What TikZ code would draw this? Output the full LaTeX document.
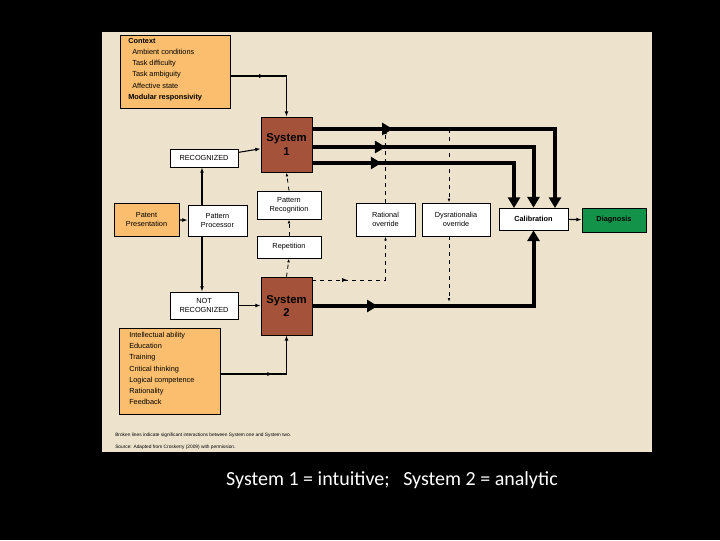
\documentclass[tikz,border=0pt]{standalone}
\usepackage{fontspec}
\setmainfont{Liberation Sans}
\newfontfamily\capfont{Carlito}
\usetikzlibrary{arrows.meta,decorations.markings}
\definecolor{panel}{RGB}{237,227,205}
\definecolor{ctx}{RGB}{250,190,110}
\definecolor{sysc}{RGB}{165,82,58}
\definecolor{diag}{RGB}{19,147,74}
\tikzset{
  box/.style={draw, line width=0.6pt, fill=white, font=\fontsize{5.5}{6.5}\selectfont, align=center, inner sep=0pt},
  obox/.style={box, fill=ctx},
  sys/.style={box, fill=sysc, font=\fontsize{8.5}{10}\bfseries\selectfont},
  fline/.style={line width=0.8pt, -{Latex[length=4pt,width=3pt]}},
  dline/.style={line width=0.6pt, dashed, -{Latex[length=3pt,width=2pt]}},
  tline/.style={line width=3pt, -{Triangle[length=8pt,width=9pt]}},
  midarr/.style={postaction={decorate}, decoration={markings, mark=at position #1 with {\arrow{Triangle[length=8pt,width=9pt]}}}},
  thinmid/.style={postaction={decorate}, decoration={markings, mark=at position #1 with {\arrow{Latex[length=4pt,width=3pt]}}}}
}
\begin{document}
\begin{tikzpicture}[x=0.75pt,y=-0.75pt]
\fill[black] (0,0) rectangle (720,540);
\useasboundingbox (0,0) rectangle (720,540);
\fill[panel] (102,32) rectangle (652,452);
% boxes
\node[obox, minimum width=110*0.75pt, minimum height=73*0.75pt, anchor=north west, align=left, inner sep=0pt] (ctx) at (120,35) {};
\node[anchor=north west, align=left, font=\fontsize{5.5}{8.4}\selectfont, inner sep=0pt] (ctxt) at (128,38) {\textbf{Context}\\\ \ Ambient conditions\\\ \ Task difficulty\\\ \ Task ambiguity\\\ \ Affective state\\\textbf{Modular responsivity}};
\node[sys, minimum width=51*0.75pt, minimum height=55*0.75pt] (s1) at (286.5,144.5) {System\\1};
\node[sys, minimum width=51*0.75pt, minimum height=58*0.75pt] (s2) at (286.5,306) {System\\2};
\node[box, minimum width=68*0.75pt, minimum height=18*0.75pt] (rec) at (204,158) {RECOGNIZED};
\node[box, minimum width=68*0.75pt, minimum height=27*0.75pt] (nrec) at (204,305.5) {NOT\\RECOGNIZED};
\node[obox, minimum width=65*0.75pt, minimum height=33*0.75pt] (pat) at (146.5,219.5) {Patent\\Presentation};
\node[box, minimum width=59*0.75pt, minimum height=31*0.75pt] (pp) at (217.5,220.5) {Pattern\\Processor};
\node[box, minimum width=64*0.75pt, minimum height=28*0.75pt] (pr) at (289,205) {Pattern\\Recognition};
\node[box, minimum width=64*0.75pt, minimum height=22*0.75pt] (rep) at (289,247) {Repetition};
\node[box, minimum width=59*0.75pt, minimum height=33*0.75pt] (rat) at (385.5,219.5) {Rational\\override};
\node[box, minimum width=68*0.75pt, minimum height=33*0.75pt] (dys) at (456,219.5) {Dysrationalia\\override};
\node[box, minimum width=69*0.75pt, minimum height=22*0.75pt, font=\fontsize{5.5}{6.5}\bfseries\selectfont] (cal) at (533.5,219) {Calibration};
\node[box, fill=diag, minimum width=64*0.75pt, minimum height=24*0.75pt, font=\fontsize{5.5}{6.5}\bfseries\selectfont] (dia) at (614,220) {Diagnosis};
\node[obox, minimum width=101*0.75pt, minimum height=86*0.75pt] (low) at (169.5,371) {};
\node[anchor=north west, align=left, font=\fontsize{5.5}{8.4}\selectfont, inner sep=0pt] (lowt) at (129,332) {Intellectual ability\\Education\\Training\\Critical thinking\\Logical competence\\Rationality\\Feedback};
% thin arrows
\draw[fline, thinmid=0.35] (ctx.east |- 0,76) -| (s1.north);
\draw[fline, thinmid=0.5] (low.east |- 0,374) -| (s2.south);
\draw[fline] (rec) -- (s1);
\draw[fline] (nrec.east) -- (s2.west |- nrec.east);
\draw[fline] (pat) -- (pp);
\draw[fline] (pp.north -| 202,0) -- (rec.south -| 202,0);
\draw[fline] (pp.south -| 202,0) -- (nrec.north -| 202,0);
\draw[fline] (cal) -- (dia);
% dashed
\draw[dline] (s2.north) -- (rep.south);
\draw[dline] (rep.north) -- (pr.south);
\draw[dline] (pr.north) -- (s1.south);
\draw[dline, thinmid=0.3] (s2.east |- 0,280) -| (rat.south);
\draw[dline] (rat.north) -- (385.5,130);
\draw[dline] (449,129) -- (dys.north -| 449,0);
\draw[dline] (dys.south -| 449,0) -- (449,302);
% thick arrows
\draw[tline, midarr=0.25] (s1.east |- 0,129) -| (555,208);
\draw[tline, midarr=0.26] (s1.east |- 0,147) -| (cal.north);
\draw[tline, midarr=0.28] (s1.east |- 0,163) -| (514,208);
\draw[tline, midarr=0.22] (s2.east) -| (cal.south);
% captions
\node[anchor=west, font=\fontsize{3.6}{4}\selectfont, inner sep=0pt] (c1) at (115,435) {Broken lines indicate significant interactions between System one and System two.};
\node[anchor=west, font=\fontsize{3.6}{4}\selectfont, inner sep=0pt] (c2) at (115,447) {Source: Adapted from Croskerry (2009) with permission.};
\node[text=white, font=\capfont\fontsize{15}{18}\selectfont] (bt) at (392,480) {System 1 = intuitive;\ \ \ System 2 = analytic};
\end{tikzpicture}
\end{document}
